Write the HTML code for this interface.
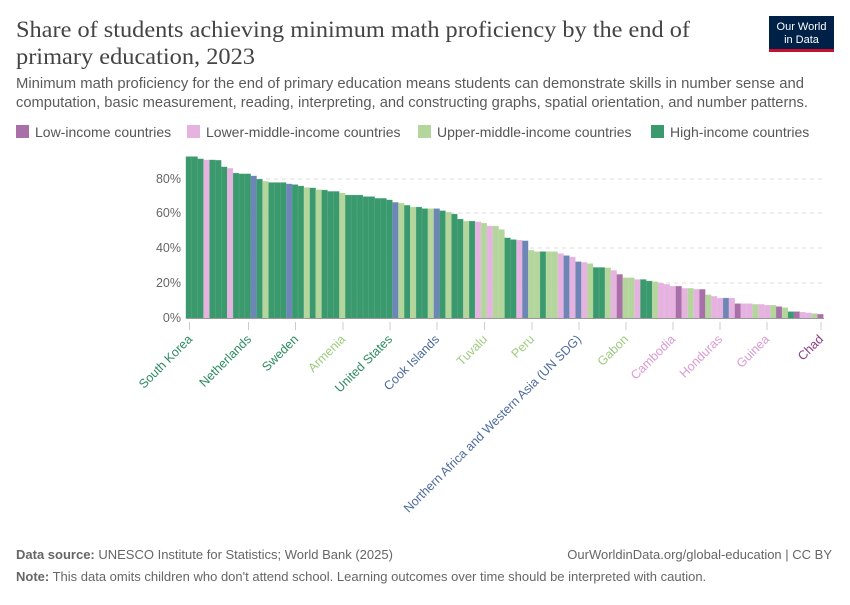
<!DOCTYPE html>
<html><head><meta charset="utf-8"><style>
body{margin:0;background:#fff;width:850px;height:600px;overflow:hidden}
svg text{font-family:"Liberation Sans",sans-serif}
</style></head><body>
<svg id="s" width="850" height="600" viewBox="0 0 850 600" xmlns="http://www.w3.org/2000/svg">
<text x="16" y="37" font-family="Liberation Serif" font-size="23" fill="#444" style="font-family:'Liberation Serif',serif" textLength="674" lengthAdjust="spacingAndGlyphs">Share of students achieving minimum math proficiency by the end of</text>
<text x="16" y="64" font-size="23" fill="#444" style="font-family:'Liberation Serif',serif" textLength="239" lengthAdjust="spacingAndGlyphs">primary education, 2023</text>
<rect x="769" y="16" width="65" height="34" fill="#002147"/>
<rect x="769" y="49" width="65" height="3" fill="#c8102e"/>
<text x="801.5" y="30" font-size="11" fill="#fff" text-anchor="middle">Our World</text>
<text x="801.5" y="43" font-size="11" fill="#fff" text-anchor="middle">in Data</text>
<text x="16" y="88" font-size="14.5" fill="#5b5b5b" textLength="788" lengthAdjust="spacingAndGlyphs">Minimum math proficiency for the end of primary education means students can demonstrate skills in number sense and</text>
<text x="16" y="107" font-size="14.5" fill="#5b5b5b" textLength="792" lengthAdjust="spacingAndGlyphs">computation, basic measurement, reading, interpreting, and constructing graphs, spatial orientation, and number patterns.</text>
<g font-size="14" fill="#555">
<rect x="16" y="125" width="13" height="13" fill="#a86fa9"/><text x="35" y="137">Low-income countries</text>
<rect x="187" y="125" width="13" height="13" fill="#e6b3e0"/><text x="206" y="137">Lower-middle-income countries</text>
<rect x="418" y="125" width="13" height="13" fill="#b4d69c"/><text x="437" y="137">Upper-middle-income countries</text>
<rect x="651" y="125" width="13" height="13" fill="#3a9a6e"/><text x="670" y="137">High-income countries</text>
</g>
<g stroke="#ddd" stroke-dasharray="4,4">
<line x1="186" x2="824" y1="283" y2="283"/><line x1="186" x2="824" y1="248" y2="248"/><line x1="186" x2="824" y1="213" y2="213"/><line x1="186" x2="824" y1="179" y2="179"/>
</g>
<g font-size="12.5" fill="#666" text-anchor="end">
<text x="181" y="322">0%</text><text x="181" y="287">20%</text><text x="181" y="252">40%</text><text x="181" y="217">60%</text><text x="181" y="183">80%</text>
</g>
<g id="bars"></g>
<line x1="186" x2="824" y1="318.5" y2="318.5" stroke="#999"/>
<g stroke="#ccc" stroke-width="1">
<line x1="189.5" x2="189.5" y1="322" y2="330"/><line x1="248.5" x2="248.5" y1="322" y2="330"/><line x1="295.5" x2="295.5" y1="322" y2="330"/><line x1="343" x2="343" y1="322" y2="330"/><line x1="390" x2="390" y1="322" y2="330"/><line x1="437" x2="437" y1="322" y2="330"/><line x1="484.5" x2="484.5" y1="322" y2="330"/><line x1="532" x2="532" y1="322" y2="330"/><line x1="579" x2="579" y1="322" y2="330"/><line x1="626" x2="626" y1="322" y2="330"/><line x1="673" x2="673" y1="322" y2="330"/><line x1="720" x2="720" y1="322" y2="330"/><line x1="767" x2="767" y1="322" y2="330"/><line x1="821" x2="821" y1="322" y2="330"/>
</g>
<g font-size="12.5" text-anchor="end">
<text transform="translate(193,340) rotate(-45)" fill="#2c8a60">South Korea</text>
<text transform="translate(252,340) rotate(-45)" fill="#2c8a60">Netherlands</text>
<text transform="translate(299,340) rotate(-45)" fill="#2c8a60">Sweden</text>
<text transform="translate(346,340) rotate(-45)" fill="#9ccb7e">Armenia</text>
<text transform="translate(393,340) rotate(-45)" fill="#2c8a60">United States</text>
<text transform="translate(440,340) rotate(-45)" fill="#4c6a9c">Cook Islands</text>
<text transform="translate(488,340) rotate(-45)" fill="#9ccb7e">Tuvalu</text>
<text transform="translate(535,340) rotate(-45)" fill="#9ccb7e">Peru</text>
<text transform="translate(582,340) rotate(-45)" fill="#4c6a9c">Northern Africa and Western Asia (UN SDG)</text>
<text transform="translate(629,340) rotate(-45)" fill="#9ccb7e">Gabon</text>
<text transform="translate(676,340) rotate(-45)" fill="#d99ad3">Cambodia</text>
<text transform="translate(723,340) rotate(-45)" fill="#d99ad3">Honduras</text>
<text transform="translate(770,340) rotate(-45)" fill="#d99ad3">Guinea</text>
<text transform="translate(824,340) rotate(-45)" fill="#8a3b80">Chad</text>
</g>
<text x="16" y="559" font-size="13" fill="#666"><tspan font-weight="bold">Data source:</tspan> UNESCO Institute for Statistics; World Bank (2025)</text>
<text x="832" y="559" font-size="13" fill="#666" text-anchor="end">OurWorldinData.org/global-education | CC BY</text>
<text x="16" y="581" font-size="13" fill="#666"><tspan font-weight="bold">Note:</tspan> This data omits children who don't attend school. Learning outcomes over time should be interpreted with caution.</text>
</svg>
<script>
var d="G92.7 G92.7 G91.4 L90.8 G90.8 G90.6 G86.8 L86 G83.2 G82.8 G82.8 B81.6 G79.7 U78.5 G77.8 G77.8 G77.8 B77 G76.6 G75.8 U74.9 G74.7 U73.7 G73.5 G72.7 G72.7 U71.8 G70.6 G70.6 G70.6 G69.7 G69.7 G68.7 G68.7 G67.8 B66.4 U66 G64.7 U63.7 G63.7 G62.8 U62.8 B62.8 G61.6 U60.8 G59.7 G56.8 U55.6 G55.6 L55.2 U54.5 L52.8 U52.8 U50.8 G46 G45 L44.7 B44.3 U38.9 U38.1 G38.1 U38.1 U38.1 L37 B35.8 L35 B32.3 L31.9 U31.2 G29 G29 U28.8 L27.3 P25 U23.1 U23.1 L22.1 G22.1 G21.2 U20.8 L20 L19.3 L18.2 P18.2 L17 U17 L16.4 P16.4 U13.3 L12.4 L11.4 B11.4 L11.4 P8.2 L8.2 L8.2 U7.8 L7.8 L7.3 U7.3 P6.5 U5.9 G3.6 P3.6 L3.3 L2.9 U2.5 P2.1".split(" ");
var c={G:"#3a9a6e",L:"#e6b3e0",U:"#b4d69c",B:"#6d86b6",P:"#a86fa9"};
var s=c,g=document.getElementById("bars"),n=d.length,w=(823.5-186)/n,h="";
for(var i=0;i<n;i++){var v=parseFloat(d[i].slice(1)),hh=v*1.74;
h+='<rect x="'+(186+i*w).toFixed(2)+'" y="'+(318-hh).toFixed(2)+'" width="'+(w-0.3).toFixed(2)+'" height="'+hh.toFixed(2)+'" fill="'+s[d[i][0]]+'" stroke="'+s[d[i][0]]+'" stroke-opacity="0.6" stroke-width="0.6"/>';}
g.innerHTML=h;
</script>
</body></html>
